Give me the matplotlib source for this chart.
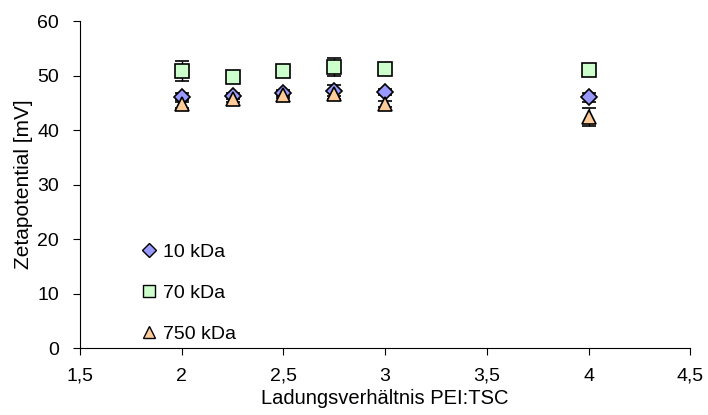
import numpy as np
import matplotlib.pyplot as plt
from matplotlib.lines import Line2D
plt.rcParams.update({'font.size': 14, 'font.family': 'Liberation Sans'})

ratio = [2, 2.25, 2.5, 2.75, 3, 4]

zeta_10 = [46.0, 46.3, 46.8, 47.2, 47.0, 46.0]
err_10 = [0.8, 0.6, 0.5, 1.0, 0.6, 0.8]
zeta_70 = [50.8, 49.8, 50.9, 51.6, 51.3, 51.0]
err_70 = [1.8, 1.0, 0.6, 1.6, 0.5, 0.5]
zeta_750 = [44.8, 45.7, 46.5, 46.6, 44.8, 42.4]
err_750 = [0.8, 0.6, 0.6, 0.8, 0.6, 1.6]

series = [
    ('10 kDa', zeta_10, err_10, 'D', 8.5, '#9999FF'),
    ('70 kDa', zeta_70, err_70, 's', 9.5, '#CCFFCC'),
    ('750 kDa', zeta_750, err_750, '^', 9.5, '#FFCC99'),
]

fig = plt.figure(figsize=(7.08, 4.15), dpi=100)
ax = fig.add_axes([0.113, 0.161, 0.862, 0.788])

handles = []
for name, vals, errs, mk, ms, col in series:
    ax.errorbar(ratio, vals, yerr=errs, fmt=mk, ms=ms, mfc=col, mec='black',
                mew=1.2, ecolor='black', elinewidth=1, capsize=5)
    handles.append(Line2D([], [], ls='none', marker=mk, ms=ms - 1, mfc=col,
                          mec='black', mew=1, label=name))

ax.set_xlim(1.5, 4.5)
ax.set_ylim(0, 60)
ax.set_xticks(np.arange(1.5, 4.51, 0.5))
ax.set_xticklabels(['1,5', '2', '2,5', '3', '3,5', '4', '4,5'])
ax.set_yticks(range(0, 61, 10))
ax.tick_params(direction='out', length=5, width=0.8)
ax.tick_params(axis='x', pad=9)
ax.tick_params(axis='y', pad=10)
ax.spines['top'].set_visible(False)
ax.spines['right'].set_visible(False)
ax.set_xlabel('Ladungsverhältnis PEI:TSC', fontsize=14.5, labelpad=3)
ax.set_ylabel('Zetapotential [mV]', fontsize=15, labelpad=3)

ax.legend(handles=handles, loc='upper left', bbox_to_anchor=(0.085, 0.345),
          frameon=False, handletextpad=0.2, labelspacing=1.2, handlelength=1,
          fontsize=14, borderaxespad=0)

fig.savefig('out.png', dpi=100)
